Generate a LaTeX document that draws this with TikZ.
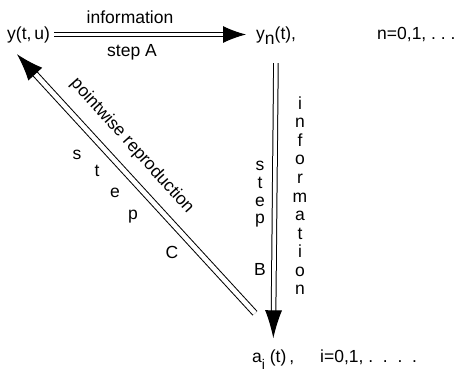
\documentclass[tikz,border=0pt]{standalone}
\usepackage{fontspec}
\setmainfont{Liberation Sans}
\usetikzlibrary{arrows.meta}
\begin{document}
\begin{tikzpicture}[x=1pt,y=-1pt,
  lbl/.style={inner sep=0pt,font=\fontsize{17.5}{18}\selectfont},
  rowtxt/.style={lbl,text height=14pt,text depth=3pt},
  dbl/.style={draw=black,double=white,line width=1pt}]
\useasboundingbox (0,0) rectangle (460,374);
% row texts
\node[rowtxt,anchor=west] (yt) at (7,34.5) {y(t,\,u)};
\node[rowtxt,anchor=west] (yn) at (256,34.5) {y\raisebox{-5pt}{n}(t),};
\node[rowtxt,anchor=west] (nr) at (377,34.5) {n=0,1, .\ .\ .};
\node[rowtxt,anchor=west] (ai) at (252,357) {a\raisebox{-7pt}{\fontsize{14}{14}\selectfont i}\ (t)\,,};
\node[rowtxt,anchor=west] (ir) at (320,357) {i=0,1,\ .\ \ .\ \ .\ \ .};
% top arrow
\draw[dbl,double distance=2.8pt,-{Latex[length=23pt,width=17pt]},shorten <=4pt,shorten >=10pt] (yt.east) -- (yn.west);
\node[lbl] (infoA) at (130,17) {information};
\node[lbl] (stepA) at (132,52) {step A};
% vertical arrow
\draw[dbl,double distance=3.6pt,-{Latex[length=28pt,width=17pt]},shorten <=20pt,shorten >=10pt] (yn.south) -- (ai.north);
\foreach \l [count=\k] in {i,n,f,o,r,m,a,t,i,o,n}
  \node[lbl,anchor=base] (v\k) at (300,{109.5+18.5*(\k-1)}) {\l};
\foreach \l [count=\k] in {s,t,e,p}
  \node[lbl,anchor=base] (w\k) at (260,{171+17.5*(\k-1)}) {\l};
\node[lbl,anchor=base] (wB) at (260,275) {B};
% diagonal arrow
\draw[dbl,double distance=4.6pt,-{Latex[length=27pt,width=19pt]}]
  ([shift={(3,-35)}]ai.north west) -- ([shift={(10,11)}]yt.south west);
\node[lbl,rotate=-48] (pr) at (132,146) {pointwise reproduction};
\node[lbl,anchor=base] (c1) at (77,160) {s};
\node[lbl,anchor=base] (c2) at (97,177) {t};
\node[lbl,anchor=base] (c3) at (115,197) {e};
\node[lbl,anchor=base] (c4) at (133,219) {p};
\node[lbl,anchor=base] (c5) at (172,258) {C};
\end{tikzpicture}
\end{document}
